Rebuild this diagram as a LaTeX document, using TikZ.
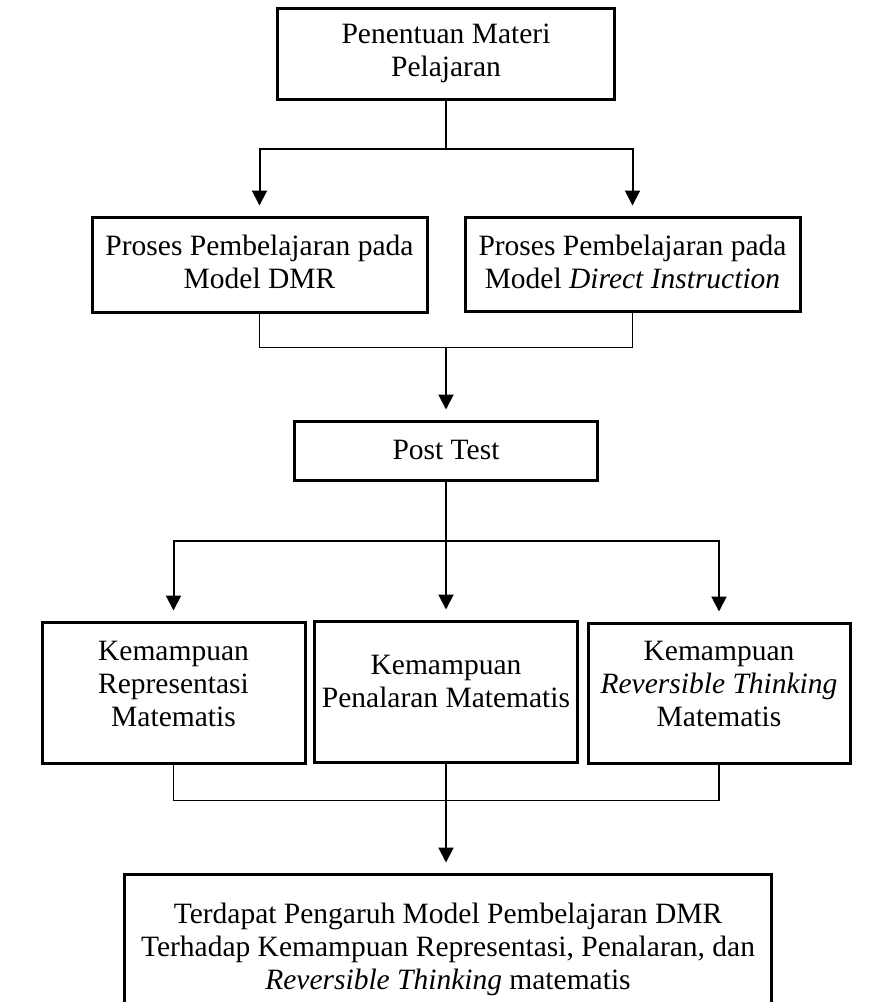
\documentclass[tikz,border=0pt]{standalone}
\usepackage{fontspec}
\setmainfont{Liberation Serif}
\usetikzlibrary{arrows.meta}
\begin{document}
\begin{tikzpicture}[x=1pt,y=-1pt,
  box/.style={draw=black, line width=3pt, inner sep=0pt},
  txt/.style={align=center, inner sep=0pt, font=\fontsize{29.5}{33}\selectfont},
  conn/.style={line width=2pt},
  joinline/.style={line width=1.3pt},
  arr/.style={line width=2pt, -{Triangle[length=15pt,width=15pt]}, shorten >=10pt}]
\path[use as bounding box] (0,0) rectangle (880,1002);
\clip (0,0) rectangle (880,1002);

% boxes
\node[box, minimum width=337pt, minimum height=91pt] (top) at (446,53.5) {};
\node[txt] (topT) at (446,53.5) {Penentuan Materi\\Pelajaran};

\node[box, minimum width=335pt, minimum height=95pt] (dmr) at (259.5,264.5) {};
\node[txt] (dmrT) at (259.5,262) {Proses Pembelajaran pada\\Model DMR};

\node[box, minimum width=335pt, minimum height=94pt] (di) at (632.5,264) {};
\node[txt] (diT) at (632.5,262) {Proses Pembelajaran pada\\Model \textit{Direct Instruction}};

\node[box, minimum width=303pt, minimum height=59pt] (post) at (446,450.5) {};
\node[txt] (postT) at (446,450) {Post Test};

\node[box, minimum width=263pt, minimum height=141pt] (rep) at (173.5,692.5) {};
\node[txt] (repT) at (173.5,684) {Kemampuan\\Representasi\\Matematis};

\node[box, minimum width=263pt, minimum height=141pt] (pen) at (446,691.5) {};
\node[txt] (penT) at (446,681) {Kemampuan\\Penalaran Matematis};

\node[box, minimum width=262pt, minimum height=140pt] (rev) at (719,693) {};
\node[txt] (revT) at (719,684) {Kemampuan\\\textit{Reversible Thinking}\\Matematis};

\node[box, minimum width=647pt, minimum height=160pt] (res) at (448,954) {};
\node[txt] (resT) at (448,949) {Terdapat Pengaruh Model Pembelajaran DMR\\Terhadap Kemampuan Representasi, Penalaran, dan\\\textit{Reversible Thinking} matematis};

% connectors
\path (top.south) ++(0,48) coordinate (j1);
\draw[conn] (top.south) -- (j1);
\draw[arr] (j1) -| (dmr.north);
\draw[arr] (j1) -| (di.north);

\draw[joinline] (dmr.south) -- ++(0,34) coordinate (j2) -| (di.south);
\path (j2 -| post.north) coordinate (j2m);
\draw[arr] (j2m) -- (post.north);

\path (post.south) ++(0,59) coordinate (j3);
\draw[conn] (post.south) -- (j3);
\draw[arr] (j3) -| (rep.north);
\draw[arr] (j3) -| (rev.north);
\draw[arr] (j3) -- (pen.north);

\draw[joinline] (rep.south) -- ++(0,36) coordinate (j4) -| (rev.south);
\draw[arr] (pen.south) -- (pen.south |- res.north);
\end{tikzpicture}
\end{document}
